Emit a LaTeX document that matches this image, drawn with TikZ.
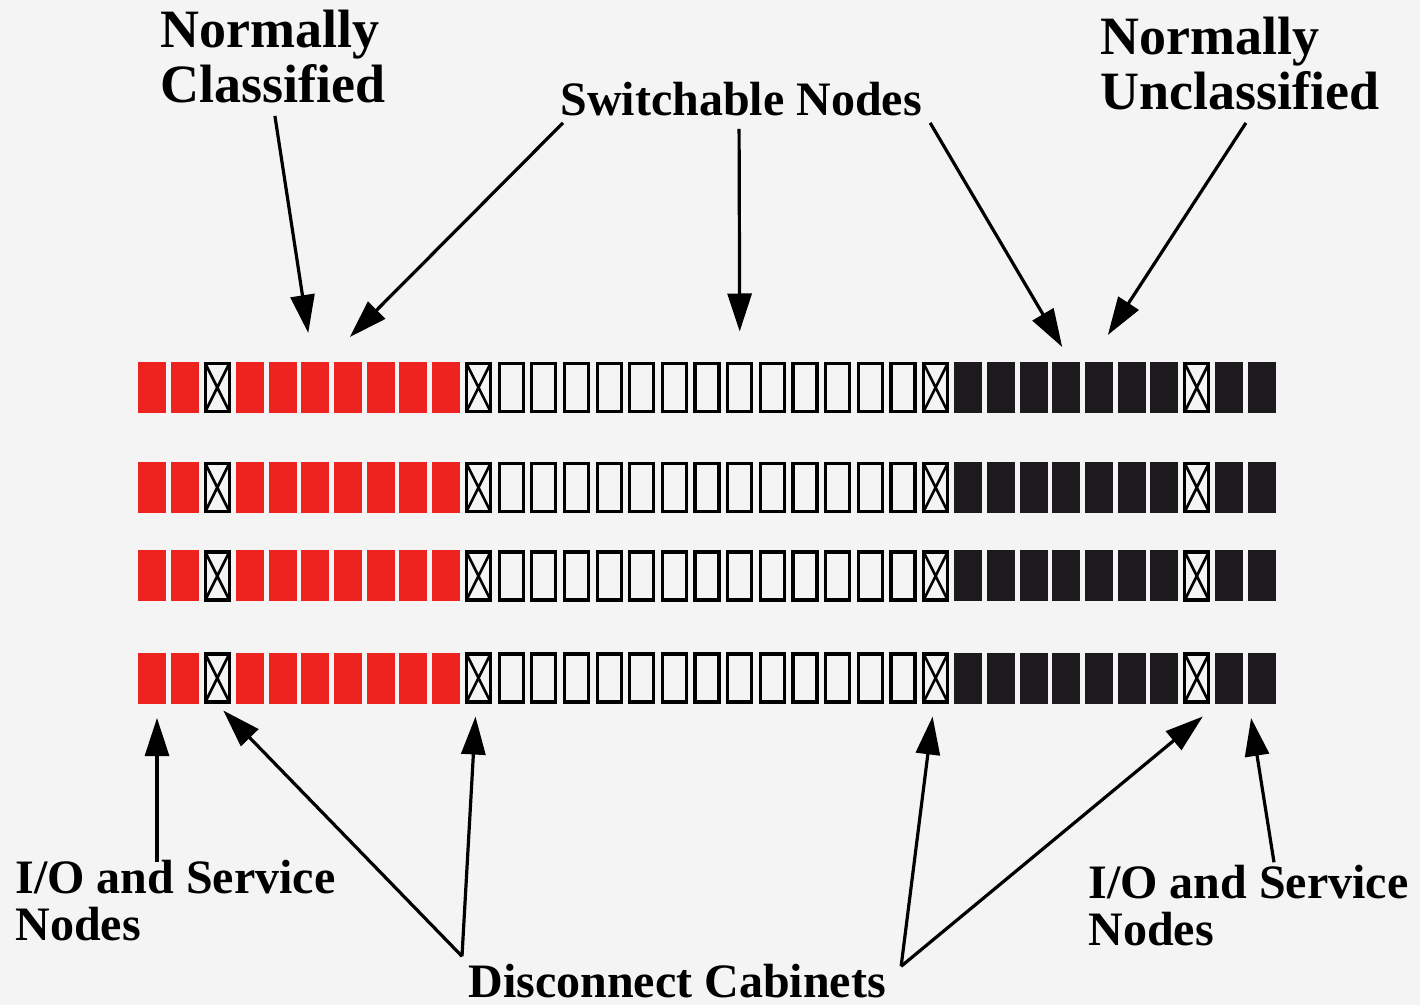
\documentclass[tikz,border=0pt]{standalone}
\usepackage{fontspec}
\setmainfont{Liberation Serif}
\usepackage{tikz}
\usetikzlibrary{arrows.meta,positioning}
\definecolor{paper}{RGB}{244,244,244}
\definecolor{cabred}{RGB}{238,34,30}
\definecolor{cabblack}{RGB}{28,26,28}

% cabinets, labels and pointers
\tikzset{
  cab/.style={rectangle, inner sep=0pt, outer sep=0pt, minimum width=14pt, minimum height=25.5pt},
  redcab/.style={cab, fill=cabred},
  blackcab/.style={cab, fill=cabblack},
  opencab/.style={cab, draw=black, line width=1.6pt, minimum width=12pt, minimum height=24pt},
  discab/.style={opencab, path picture={
      \draw[line width=1.3pt] (path picture bounding box.north west) -- (path picture bounding box.south east)
                              (path picture bounding box.north east) -- (path picture bounding box.south west);}},
  lbl/.style={font=\bfseries\fontsize{24}{23.5}\selectfont, inner sep=0pt, align=left},
  biglbl/.style={font=\bfseries\fontsize{27}{27.5}\selectfont, inner sep=0pt, align=left},
  pointer/.style={line width=1.6pt, -{Triangle[length=19pt,width=12pt]}},
}

\begin{document}
\begin{tikzpicture}[x=0.5pt, y=-0.5pt]
\fill[paper] (0,0) rectangle (1420,1005);
\useasboundingbox (0,0) rectangle (1420,1005);

% four rows of 35 cabinets
\foreach \r/\y in {1/387.5, 2/487.5, 3/576, 4/678}{
  \foreach \i in {0,1,3,4,...,9}
    \node[redcab] (c-\r-\i) at ({152+32.65*\i},\y) {};
  \foreach \i in {2,10,24,32}
    \node[discab] (c-\r-\i) at ({152+32.65*\i},\y) {};
  \foreach \i in {11,...,23}
    \node[opencab] (c-\r-\i) at ({152+32.65*\i},\y) {};
  \foreach \i in {25,...,31}
    \node[blackcab] (c-\r-\i) at ({152+32.65*\i},\y) {};
  \foreach \i in {33,34}
    \node[blackcab] (c-\r-\i) at ({152+32.65*\i},\y) {};
}

% labels (base anchor sits on the last line)
\node[biglbl, anchor=base west] (cls) at (160,103) {Normally\\Classified};
\node[lbl, anchor=base west] (swn) at (560,116) {Switchable Nodes};
\node[biglbl, anchor=base west] (ucl) at (1100,110) {Normally\\Unclassified};
\node[lbl, anchor=base west] (iol) at (15,940) {I/O and Service\\Nodes};
\node[lbl, anchor=base west] (ior) at (1088,945) {I/O and Service\\Nodes};
\node[lbl, anchor=base west] (dis) at (468,997) {Disconnect Cabinets};

% arrows from the labels
\draw[pointer] ([shift={(2,12)}]cls.south) -- ([shift={(-7,-29)}]c-1-5.north);
\draw[pointer] ([shift={(3,6)}]swn.south west) -- ([shift={(2,-25)}]c-1-6.north);
\draw[pointer] ([shift={(-2,12)}]swn.south) -- ([shift={(0,-32)}]c-1-18.north);
\draw[pointer] ([shift={(8,6)}]swn.south east) -- ([shift={(-4,-15)}]c-1-28.north);
\draw[pointer] ([shift={(6,12)}]ucl.south) -- ([shift={(9,-27)}]c-1-29.north);

\draw[pointer] ([shift={(142,3)}]iol.north west) -- ([shift={(5,14.5)}]c-4-0.south);
\draw[pointer] ([shift={(-6,-7)}]dis.north west) -- ([shift={(6,8.5)}]c-4-2.south);
\draw[pointer] ([shift={(-6,-7)}]dis.north west) -- ([shift={(-3,14.5)}]c-4-10.south);
\draw[pointer] ([shift={(15,3)}]dis.north east) -- ([shift={(-3,14.5)}]c-4-24.south);
\draw[pointer] ([shift={(15,3)}]dis.north east) -- ([shift={(6,14.5)}]c-4-32.south);
\draw[pointer] ([shift={(186,-2)}]ior.north west) -- ([shift={(-11,14.5)}]c-4-34.south);
\end{tikzpicture}
\end{document}
